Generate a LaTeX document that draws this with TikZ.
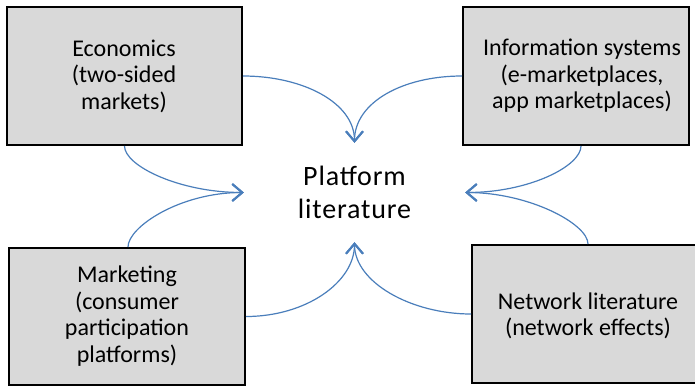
\documentclass[tikz,border=0pt]{standalone}
\usepackage{fontspec}
\setmainfont{Carlito}
\newfontfamily\platfont[LetterSpace=3]{Carlito}
\usetikzlibrary{arrows.meta}
\definecolor{connblue}{HTML}{4A7EBB}
\definecolor{boxgray}{HTML}{D9D9D9}
\begin{document}
\begin{tikzpicture}[x=1pt,y=1pt,
  box/.style={draw=black, line width=2pt, fill=boxgray, inner sep=0pt},
  lbl/.style={align=center, font=\fontsize{24}{26.5}\selectfont, inner sep=0pt},
  conn/.style={draw=connblue, line width=1.2pt, -{Straight Barb[length=10pt,width=17pt,line width=2pt]}}]
\clip (0,0) rectangle (695,-386);
\useasboundingbox (0,0) rectangle (695,-386);
% boxes
\node[box, minimum width=235pt, minimum height=138pt] (econ) at (124.5,-76) {};
\node[box, minimum width=226pt, minimum height=138pt] (is) at (576,-76) {};
\node[box, minimum width=236pt, minimum height=137pt] (mkt) at (127,-316.5) {};
\node[box, minimum width=232pt, minimum height=138pt] (net) at (588,-314) {};
% labels
\node[lbl] (econt) at (124,-76) {Economics\\(two-sided\\markets)};
\node[lbl] (ist) at (582,-76) {Information systems\\(e-marketplaces,\\app marketplaces)};
\node[lbl] (mktt) at (127,-316) {Marketing\\(consumer\\participation\\platforms)};
\node[lbl] (nett) at (588,-316) {Network literature\\(network effects)};
% centre
\node[minimum width=221pt, minimum height=99pt, inner sep=0pt,
      align=center, font=\platfont\fontsize{28}{33}\selectfont] (plat) at (354.5,-192.5) {Platform\\literature};
% connectors
\draw[conn] (econ.east) to[out=0,in=90,out distance=60pt,in distance=40pt] (plat.north);
\draw[conn] (is.west) to[out=180,in=90,out distance=60pt,in distance=40pt] (plat.north);
\draw[conn] (econ.south) to[out=-90,in=180,out distance=20pt,in distance=64pt] (plat.west);
\draw[conn] ([xshift=5pt]is.south) to[out=-90,in=0,out distance=20pt,in distance=64pt] (plat.east);
\draw[conn] ([xshift=1pt]mkt.north) to[out=90,in=180,out distance=20pt,in distance=64pt] (plat.west);
\draw[conn] (mkt.east) to[out=0,in=-90,out distance=60pt,in distance=40pt] (plat.south);
\draw[conn] (net.west) to[out=180,in=-90,out distance=60pt,in distance=40pt] (plat.south);
\draw[conn] (net.north) to[out=90,in=0,out distance=20pt,in distance=64pt] (plat.east);
\end{tikzpicture}
\end{document}
